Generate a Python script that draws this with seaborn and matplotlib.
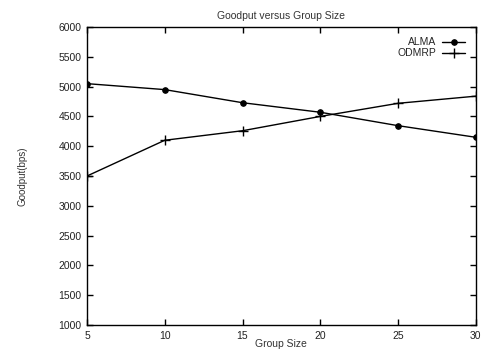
import matplotlib
matplotlib.use("Agg")
import matplotlib.pyplot as plt
import seaborn as sns

group_size = [5, 10, 15, 20, 25, 30]
alma = [5050, 4950, 4730, 4570, 4345, 4150]
odmrp = [3500, 4100, 4260, 4500, 4720, 4840]

sns.set_theme(style="white")
plt.rcParams['font.family'] = ['Liberation Sans', 'DejaVu Sans']

fig = plt.figure(figsize=(4.87, 3.51), dpi=100)
ax = fig.add_axes([0.1786, 0.074, 0.7984, 0.849])

sns.lineplot(x=group_size, y=alma, color="black", marker="o", markersize=4,
             markeredgecolor="black", linewidth=1.0, label="ALMA", ax=ax)
sns.lineplot(x=group_size, y=odmrp, color="black", marker="+", markersize=7,
             markeredgecolor="black", markeredgewidth=1.0, linewidth=1.0,
             label="ODMRP", ax=ax)

ax.set_xlim(5, 30)
ax.set_ylim(1000, 6000)
ax.set_xticks(group_size)
ax.set_yticks(range(1000, 6001, 500))
ax.tick_params(direction="in", length=4, width=1, colors="black", labelsize=7.5,
               labelcolor="#222222", top=True, right=True, bottom=True, left=True, pad=4)
for s in ax.spines.values():
    s.set_color("black")
    s.set_linewidth(1.0)
ax.set_title("Goodput versus Group Size", fontsize=7.5, color="#333333", pad=6)
ax.set_xlabel("Group Size", fontsize=7.5, color="#333333", labelpad=-1)
ax.set_ylabel("Goodput(bps)", fontsize=7, color="#333333", labelpad=22)

ax.legend(loc="upper right", frameon=False, markerfirst=False,
          fontsize=7.5, handlelength=2.2, borderaxespad=0.6, labelspacing=0.1,
          handletextpad=0.6)

fig.savefig("out.png", dpi=100)
